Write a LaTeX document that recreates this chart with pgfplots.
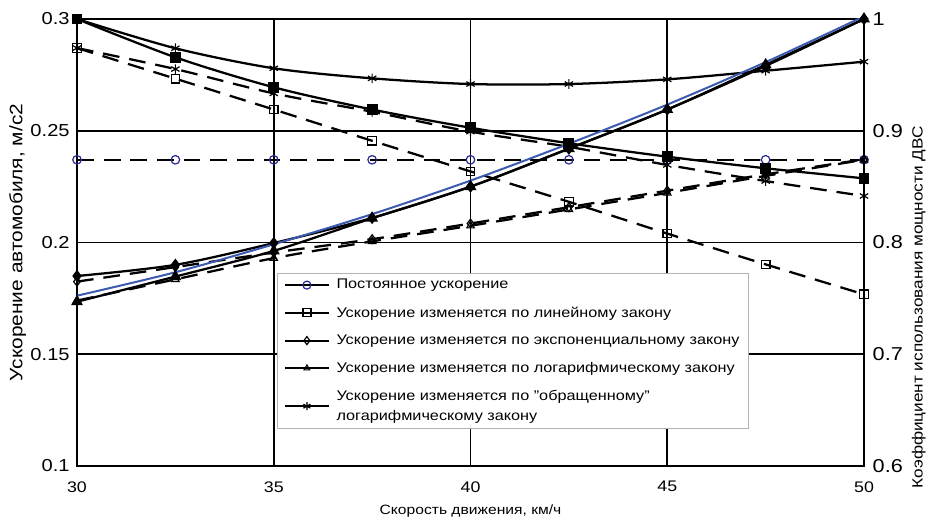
\documentclass[border=0pt]{standalone}
\usepackage{pgfplots}
\pgfplotsset{compat=1.18}
\usepackage{fontspec}
\setmainfont{Liberation Sans}[FakeStretch=1.16]
\definecolor{lineblue}{RGB}{60,90,175}
\definecolor{circblue}{RGB}{40,40,150}

\pgfplotstableread{
x a
30 0.237
32.5 0.237
35 0.237
37.5 0.237
40 0.237
42.5 0.237
45 0.237
47.5 0.237
50 0.237
}\accconst
\pgfplotstableread{
x a
30 0.287
32.5 0.2733
35 0.2595
37.5 0.2455
40 0.2318
42.5 0.2182
45 0.2040
47.5 0.1902
50 0.1768
}\acclin
\pgfplotstableread{
x a
30 0.287
32.5 0.2776
35 0.2667
37.5 0.2585
40 0.2496
42.5 0.2428
45 0.2347
47.5 0.2275
50 0.2208
}\accinv
\pgfplotstableread{
x a
30 0.1825
32.5 0.189
35 0.1955
37.5 0.2015
40 0.2085
42.5 0.2158
45 0.2232
47.5 0.2305
50 0.2372
}\accexp
\pgfplotstableread{
x a
30 0.174
32.5 0.1835
35 0.193
37.5 0.2005
40 0.2075
42.5 0.2148
45 0.2222
47.5 0.2298
50 0.237
}\acclog

\pgfplotstableread{
x k
30 0.750
32.5 0.771
35 0.796
37.5 0.823
40 0.853
42.5 0.886
45 0.921
47.5 0.959
50 1.0
}\kconst
\pgfplotstableread{
x k
30 1.0
32.5 0.9657
35 0.9389
37.5 0.919
40 0.9027
42.5 0.8888
45 0.8768
47.5 0.8664
50 0.8574
}\klin
\pgfplotstableread{
x k
30 1.0
32.5 0.9738
35 0.9559
37.5 0.9469
40 0.9418
42.5 0.9418
45 0.946
47.5 0.9537
50 0.9618
}\kinv
\pgfplotstableread{
x k
30 0.770
32.5 0.780
35 0.7995
37.5 0.822
40 0.850
42.5 0.884
45 0.919
47.5 0.958
50 1.0
}\kexp
\pgfplotstableread{
x k
30 0.747
32.5 0.7695
35 0.7925
37.5 0.8217
40 0.850
42.5 0.884
45 0.919
47.5 0.959
50 1.0
}\klog

\begin{document}
\begin{tikzpicture}
\useasboundingbox (-57.75pt,-43.5pt) rectangle (637.5pt,349.5pt);
\pgfplotsset{
  every axis/.append style={
    at={(0pt,0pt)}, anchor=south west,
    scale only axis, width=590.25pt, height=335.25pt,
    xmin=30, xmax=50,
    major tick length=0pt,
    /pgf/number format/assume math mode=true,
  },
  dsh/.style={black, line width=1.7pt, dash pattern=on 12.5pt off 7.5pt, smooth},
  sld/.style={black, line width=1.7pt, smooth},
}
\begin{axis}[
  ymin=0.1, ymax=0.3,
  xtick={30,35,...,50}, ytick={0.1,0.15,0.2,0.25,0.3},
  grid=major, major grid style={black, line width=1.4pt},
  axis line style={black, line width=1.8pt},
  yticklabel style={font=\fontsize{13}{15}\selectfont, xshift=-2pt},
  xticklabel style={font=\fontsize{11.5}{13}\selectfont, yshift=-8pt},
  yticklabel={\pgfmathprintnumber[fixed,precision=2]{\tick}},
  xlabel={Скорость движения, км/ч},
  ylabel={Ускорение автомобиля, м/с2},
  every axis x label/.style={at={(axis description cs:0.5,0)}, anchor=center, yshift=-34pt, font=\fontsize{10.1}{12}\selectfont},
  every axis y label/.style={at={(axis description cs:-0.0755,0.5)}, anchor=center, rotate=90, font=\fontsize{13.5}{16}\selectfont},
]
\addplot[dsh, mark=o, mark size=3.2pt, mark options={solid, circblue, line width=0.9pt}] table[x=x,y=a]{\accconst};
\addplot[dsh, mark=square, mark size=3.2pt, mark options={solid, fill=white, line width=0.9pt}] table[x=x,y=a]{\acclin};
\addplot[dsh, mark=asterisk, mark size=3.6pt, mark options={solid, line width=0.9pt}] table[x=x,y=a]{\accinv};
\addplot[dsh, mark=diamond, mark size=3.3pt, mark options={solid, fill=white, line width=0.9pt}] table[x=x,y=a]{\accexp};
\addplot[dsh, mark=triangle, mark size=3.2pt, mark options={solid, fill=white, line width=0.9pt}] table[x=x,y=a]{\acclog};
\end{axis}
\begin{axis}[
  ymin=0.6, ymax=1,
  axis x line=none, axis y line*=right,
  axis line style={black, line width=1.8pt},
  ytick={0.6,0.7,0.8,0.9,1},
  yticklabel style={font=\fontsize{14}{16}\selectfont, xshift=3pt},
  yticklabel={\pgfmathprintnumber[fixed,precision=1]{\tick}},
  ylabel={Коэффициент использования мощности ДВС},
  every axis y label/.style={at={(axis description cs:1.0695,0.355)}, anchor=center, rotate=90, font=\fontsize{11.1}{13}\selectfont},
  legend style={at={(0.254,0.432)}, anchor=north west, draw=gray!60, line width=0.6pt, fill=white,
    font=\fontsize{10.5}{15}\selectfont, row sep=7.8pt, inner xsep=5pt, inner ysep=2.5pt,
    cells={align=left}, /tikz/every odd column/.append style={column sep=3pt}},
  legend cell align=left,
  legend image code/.code={
    \draw[mark repeat=2, mark phase=2, #1] plot coordinates {(0cm,0cm) (0.58cm,0cm) (1.16cm,0cm)};
  },
]
\addplot[sld, mark=square*, mark size=3.2pt, forget plot] table[x=x,y=k]{\klin};
\addplot[sld, mark=asterisk, mark size=3.6pt, mark options={line width=0.9pt}, forget plot] table[x=x,y=k]{\kinv};
\addplot[sld, mark=diamond*, mark size=3.3pt, forget plot] table[x=x,y=k]{\kexp};
\addplot[sld, mark=triangle*, mark size=3.5pt, forget plot] table[x=x,y=k]{\klog};
\addplot[lineblue, line width=1.5pt, smooth, yshift=2pt, forget plot] table[x=x,y=k]{\kconst};
\addlegendimage{black, line width=1.4pt, mark=o, mark size=3pt, mark options={circblue, line width=0.9pt}}
\addlegendentry{Постоянное ускорение}
\addlegendimage{black, line width=1.4pt, mark=square, mark size=3pt, mark options={fill=white, line width=0.9pt}}
\addlegendentry{Ускорение изменяется по линейному закону}
\addlegendimage{black, line width=1.4pt, mark=diamond, mark size=3pt, mark options={fill=white, line width=0.9pt}}
\addlegendentry{Ускорение изменяется по экспоненциальному закону}
\addlegendimage{black, line width=1.4pt, mark=triangle, mark size=2.5pt, mark options={fill=white, line width=0.8pt}}
\addlegendentry{Ускорение изменяется по логарифмическому закону}
\addlegendimage{black, line width=1.4pt, mark=asterisk, mark size=3pt, mark options={line width=0.9pt}}
\addlegendentry{Ускорение изменяется по "обращенному"\\логарифмическому закону}
\end{axis}
\end{tikzpicture}
\end{document}
